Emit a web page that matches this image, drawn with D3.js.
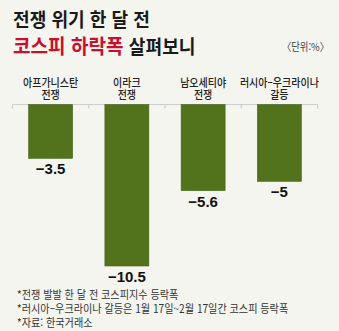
<!DOCTYPE html>
<html lang="ko">
<head>
<meta charset="utf-8" />
<title>전쟁 위기 한 달 전 코스피 하락폭</title>
<script src="https://d3js.org/d3.v7.min.js"></script>
<style>
    html, body { margin: 0; padding: 0; background: #f5f5f0; }
    svg { display: block; }
    .kr { font-family: "Noto Sans CJK KR", "Noto Sans", sans-serif; }
    .num { font-family: "Liberation Sans", Arial, sans-serif; font-weight: bold; }
</style>
</head>
<body>
<svg id="chart" width="339" height="331"></svg>
<script>
    // KOSPI change one month before each crisis (%)
    const wars = ["아프가니스탄 전쟁", "이라크 전쟁", "남오세티야 전쟁", "러시아–우크라이나 갈등"];
    const warLines = [["아프가니스탄", "전쟁"], ["이라크", "전쟁"], ["남오세티야", "전쟁"], ["러시아–우크라이나", "갈등"]];
    const kospiChange = [-3.5, -10.5, -5.6, -5];
    const notes = [
        "*전쟁 발발 한 달 전 코스피지수 등락폭",
        "*러시아–우크라이나 갈등은 1월 17일~2월 17일간 코스피 등락폭",
        "*자료: 한국거래소"
    ];

    const svg = d3.select("#chart");
    const barColor = "#52721c";
    const barW = 44;

    const x = d3.scaleBand()
        .domain(wars)
        .range([12.5, 317.5])
        .padding(0);

    const y = d3.scaleLinear()
        .domain([-10.5, 0])
        .range([266, 104.5]);

    // squeeze text horizontally, like a condensed gothic face
    function squeezed(sel, x0, y0, sx) {
        return sel.attr("transform", `translate(${x0},${y0}) scale(${sx},1)`);
    }

    // title
    squeezed(svg.append("text").attr("class", "kr"), 13, 27, 0.93)
        .attr("font-size", 19.5).attr("font-weight", 700).attr("fill", "#1a1a1a")
        .text("전쟁 위기 한 달 전");

    const t2 = squeezed(svg.append("text").attr("class", "kr"), 13, 54, 0.93)
        .attr("font-size", 20.5).attr("font-weight", 700);
    t2.append("tspan").attr("fill", "#c8102e").text("코스피 하락폭 ");
    t2.append("tspan").attr("fill", "#1a1a1a").attr("font-size", 19.5).text("살펴보니");

    squeezed(svg.append("text").attr("class", "kr"), 329, 51, 0.85)
        .attr("font-size", 11).attr("fill", "#444").attr("text-anchor", "end")
        .text("〈단위:%〉");

    // axis line with separators between categories
    svg.append("line")
        .attr("x1", x.range()[0]).attr("x2", x.range()[1])
        .attr("y1", y(0)).attr("y2", y(0))
        .attr("stroke", "#cfcfcf").attr("stroke-width", 1.2);

    const sep = wars.map(d => x(d)).concat([x.range()[1]]);
    svg.append("g").selectAll("line")
        .data(sep)
        .join("line")
        .attr("x1", d => d).attr("x2", d => d)
        .attr("y1", y(0)).attr("y2", y(0) + 4)
        .attr("stroke", "#cfcfcf").attr("stroke-width", 1.2);

    // category labels above the axis, two lines each
    const cats = svg.append("g");
    wars.forEach((w, i) => {
        const cx = x(w) + x.bandwidth() / 2;
        const label = squeezed(cats.append("text").attr("class", "kr"), cx, 87, 0.87)
            .attr("font-size", 11.5).attr("font-weight", 500).attr("fill", "#222")
            .attr("text-anchor", "middle");
        warLines[i].forEach((line, j) => {
            label.append("tspan")
                .attr("x", 0)
                .attr("dy", j === 0 ? 0 : 12)
                .text(line);
        });
    });

    // bars
    svg.append("g")
        .selectAll("rect")
        .data(kospiChange)
        .join("rect")
        .attr("x", (d, i) => x(wars[i]) + (x.bandwidth() - barW) / 2)
        .attr("y", y(0))
        .attr("width", barW)
        .attr("height", d => y(d) - y(0))
        .attr("fill", barColor)
        .attr("stroke", "#46651a").attr("stroke-width", 0.6);

    // value labels under bars
    svg.append("g")
        .selectAll("text")
        .data(kospiChange)
        .join("text")
        .attr("class", "num")
        .attr("x", (d, i) => x(wars[i]) + x.bandwidth() / 2)
        .attr("y", d => y(d) + 16)
        .attr("text-anchor", "middle")
        .attr("font-size", 15)
        .attr("fill", "#111")
        .text(d => d3.format("")(d));

    // footnotes
    notes.forEach((n, i) => {
        squeezed(svg.append("text").attr("class", "kr"), 17, 299 + i * 14, 0.88)
            .attr("font-size", 11.5).attr("fill", "#333")
            .text(n);
    });
</script>
</body>
</html>
